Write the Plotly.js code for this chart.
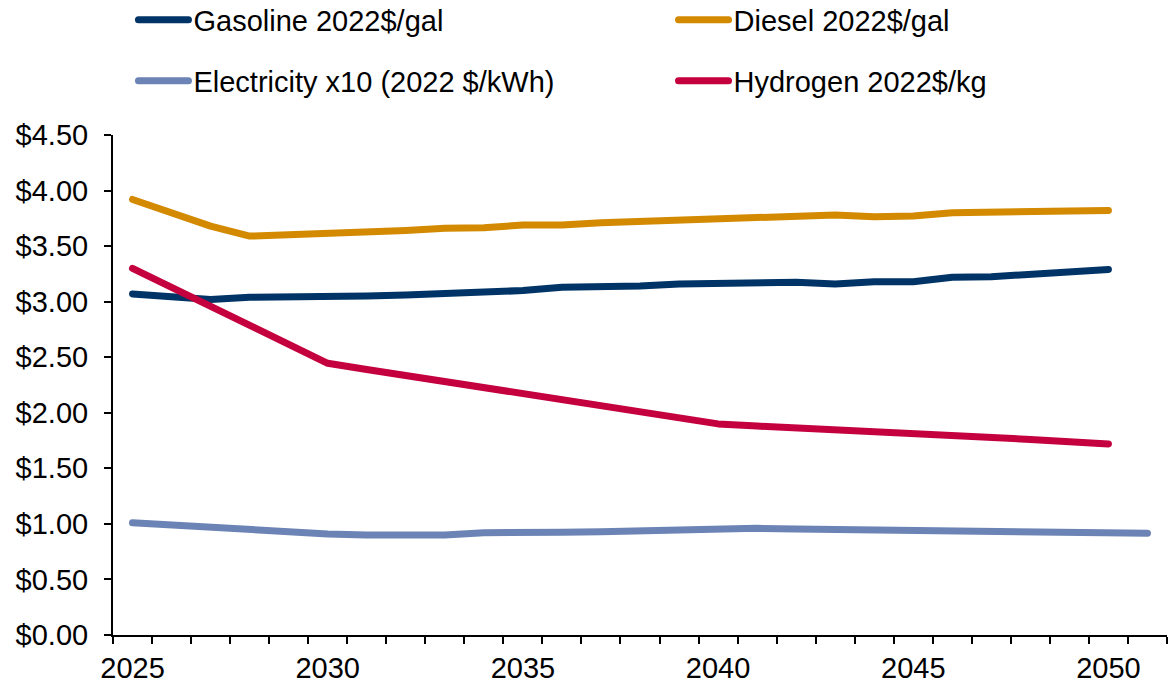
<!DOCTYPE html>
<html>
<head>
<meta charset="utf-8">
<script src="https://cdn.plot.ly/plotly-3.0.1.min.js"></script>
<style>
html,body{margin:0;padding:0;background:#fff;}
#chart{width:1169px;height:686px;}
.js-line{stroke-linecap:round !important;stroke-linejoin:round !important;}
</style>
</head>
<body>
<div id="chart"></div>
<script>
const years = [2025,2026,2027,2028,2029,2030,2031,2032,2033,2034,2035,2036,2037,2038,2039,2040,2041,2042,2043,2044,2045,2046,2047,2048,2049,2050];
const yearsElec = [2025,2026,2027,2028,2029,2030,2031,2032,2033,2034,2035,2036,2037,2038,2039,2040,2041,2042,2043,2044,2045,2046,2047,2048,2049,2050,2051];
const gasoline = [3.07,3.04,3.02,3.04,3.04,3.05,3.05,3.06,3.07,3.09,3.10,3.13,3.13,3.14,3.16,3.165,3.165,3.175,3.16,3.18,3.18,3.22,3.225,3.25,3.265,3.29];
const diesel = [3.92,3.80,3.68,3.59,3.60,3.605,3.63,3.64,3.66,3.665,3.69,3.69,3.71,3.72,3.73,3.735,3.76,3.76,3.78,3.765,3.77,3.80,3.80,3.805,3.815,3.82];
const electricity = [1.01,0.99,0.965,0.94,0.92,0.91,0.90,0.90,0.90,0.92,0.93,0.925,0.93,0.94,0.955,0.96,0.96,0.955,0.95,0.945,0.945,0.945,0.94,0.935,0.93,0.925,0.915];
const hydrogen = [3.30,3.13,2.96,2.79,2.62,2.445,2.39,2.335,2.28,2.225,2.17,2.12,2.065,2.01,1.955,1.90,1.88,1.865,1.85,1.83,1.815,1.80,1.78,1.76,1.74,1.72];
const names = ["Gasoline 2022$/gal","Diesel 2022$/gal","Electricity x10 (2022 $/kWh)","Hydrogen 2022$/kg"];
const colors = ["#003466","#D38A00","#6B83B5","#C4003F"];
const xTickVals = [2025,2030,2035,2040,2045,2050];
const xTickText = ["2025","2030","2035","2040","2045","2050"];
const yTickVals = [0,0.5,1,1.5,2,2.5,3,3.5,4,4.5];
const yTickText = ["$0.00","$0.50","$1.00","$1.50","$2.00","$2.50","$3.00","$3.50","$4.00","$4.50"];

const FONT = '"Liberation Sans", Arial, sans-serif';
const FS = 29;
const lw = 7;
const traces = [
  {x: years, y: gasoline, name: names[0], line:{color:colors[0], width:lw}, legend:'legend'},
  {x: years, y: diesel, name: names[1], line:{color:colors[1], width:lw}, legend:'legend2'},
  {x: yearsElec, y: electricity, name: names[2], line:{color:colors[2], width:lw}, legend:'legend3'},
  {x: years, y: hydrogen, name: names[3], line:{color:colors[3], width:lw}, legend:'legend4'}
].map(t => Object.assign({type:'scatter', mode:'lines', hoverinfo:'skip'}, t));

const legendCommon = {
  orientation:'h', xanchor:'left', yanchor:'middle',
  itemwidth:50,
  font:{family:FONT, size:FS, color:'#000'}, bgcolor:'rgba(0,0,0,0)', borderwidth:0
};
const colL = 0.0194, colR = 0.5318, row1 = 1.230, row2 = 1.108;

const layout = {
  width:1169, height:686,
  margin:{l:113, r:2, t:135, b:51, autoexpand:false},
  paper_bgcolor:'#fff', plot_bgcolor:'#fff',
  font:{family:FONT, size:FS, color:'#000'},
  showlegend:true,
  legend: Object.assign({}, legendCommon, {x:colL, y:row1}),
  legend2: Object.assign({}, legendCommon, {x:colR, y:row1}),
  legend3: Object.assign({}, legendCommon, {x:colL, y:row2}),
  legend4: Object.assign({}, legendCommon, {x:colR, y:row2}),
  xaxis:{
    type:'linear', range:[2024.5, 2051.5],
    tickmode:'array', tickvals:xTickVals, ticktext:xTickText,
    ticks:'', showgrid:false, zeroline:false,
    showline:true, linecolor:'#000', linewidth:2,
    tickfont:{family:FONT, size:FS, color:'#000'},
    ticklabelstandoff:6,
    minor:{tickmode:'linear', tick0:2024.5, dtick:1, ticks:'outside', ticklen:7, tickwidth:2, tickcolor:'#000', showgrid:false},
    fixedrange:true
  },
  yaxis:{
    range:[0,4.5], tickmode:'array', tickvals:yTickVals, ticktext:yTickText,
    ticks:'outside', ticklen:7, tickwidth:2, tickcolor:'#000',
    showgrid:false, zeroline:false,
    showline:true, linecolor:'#000', linewidth:2,
    tickfont:{family:FONT, size:FS, color:'#000'},
    ticklabelstandoff:10,
    fixedrange:true
  }
};

Plotly.newPlot('chart', traces, layout, {displayModeBar:false, staticPlot:true});
</script>
</body>
</html>
